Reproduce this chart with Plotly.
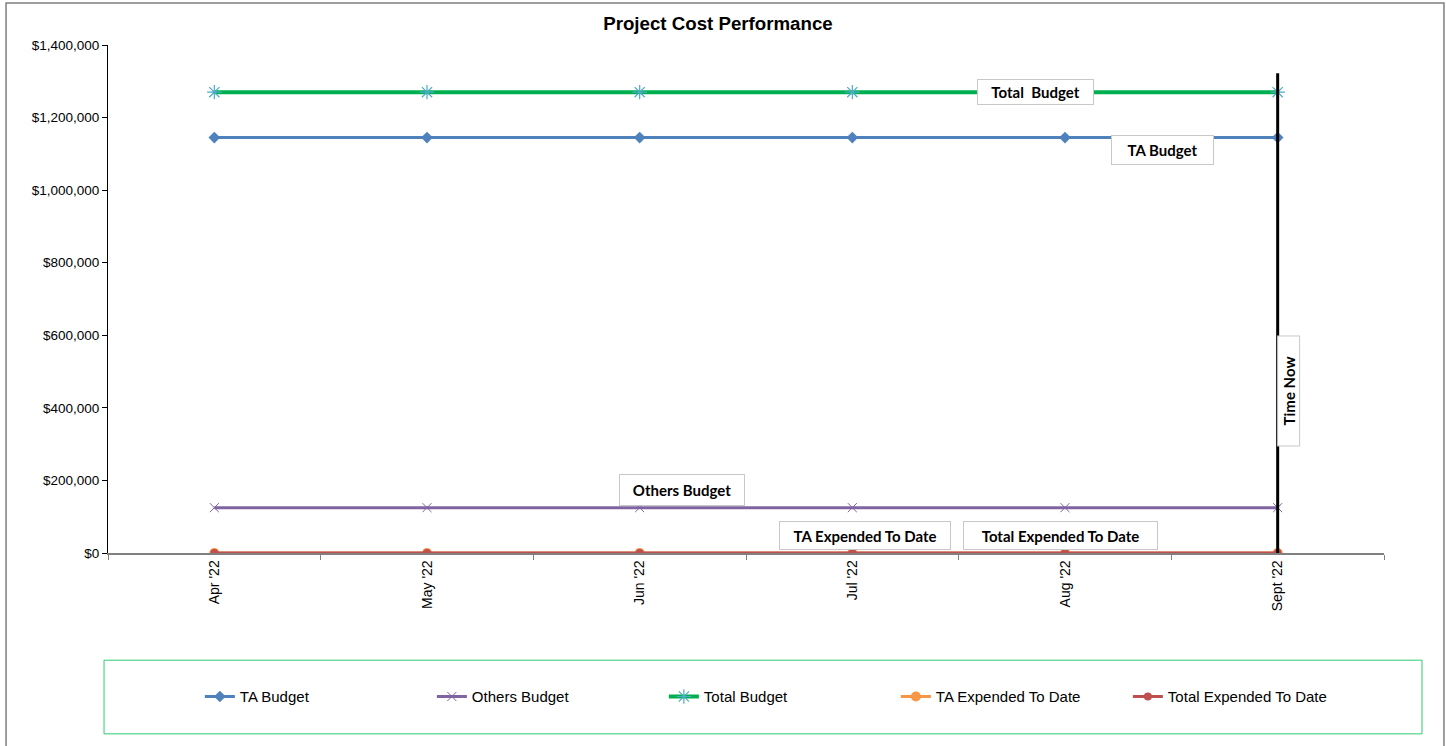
import plotly.graph_objects as go

# data
months = ["Apr '22", "May '22", "Jun '22", "Jul '22", "Aug '22", "Sept '22"]
ta_budget = [1145000, 1145000, 1145000, 1145000, 1145000, 1145000]
others_budget = [125000, 125000, 125000, 125000, 125000, 125000]
total_budget = [1270000, 1270000, 1270000, 1270000, 1270000, 1270000]
ta_expended = [0, 0, 0, 0, 0, 0]
total_expended = [0, 0, 0, 0, 0, 0]
time_now_idx = 5
time_now_top = 1322000

fig = go.Figure()

fig.add_trace(go.Scatter(
    x=months, y=ta_budget, name="TA Budget", mode="lines+markers",
    line=dict(color="#4F81BD", width=3),
    marker=dict(symbol="diamond", size=9, color="#4F81BD")
))
fig.add_trace(go.Scatter(
    x=months, y=others_budget, name="Others Budget", mode="lines+markers",
    line=dict(color="#8064A2", width=3),
    marker=dict(symbol="x-thin", size=9, color="#8064A2", line=dict(color="#8064A2", width=1))
))
fig.add_trace(go.Scatter(
    x=months, y=total_budget, name="Total Budget", mode="lines+markers",
    line=dict(color="#00B050", width=4),
    marker=dict(symbol="asterisk-open", size=12, color="#4BACC6", line=dict(color="#4BACC6", width=1.2))
))
fig.add_trace(go.Scatter(
    x=months, y=ta_expended, name="TA Expended To Date", mode="lines+markers",
    line=dict(color="#F79646", width=3),
    marker=dict(symbol="circle", size=10, color="#F79646")
))
fig.add_trace(go.Scatter(
    x=months, y=total_expended, name="Total Expended To Date", mode="lines+markers",
    line=dict(color="#C0504D", width=3),
    marker=dict(symbol="circle", size=8, color="#C0504D")
))

# time now line
fig.add_shape(type="line", xref="x", yref="y", x0=time_now_idx, x1=time_now_idx,
              y0=0, y1=time_now_top, line=dict(color="black", width=3))

# outer chart border
fig.add_shape(type="rect", xref="paper", yref="paper", x0=-0.0799, x1=1.047,
              y0=-0.4, y1=1.0827, line=dict(color="#7f7f7f", width=1.5), layer="below")
# legend box
fig.add_shape(type="rect", xref="paper", yref="paper", x0=-0.0031, x1=1.0298,
              y0=-0.356, y1=-0.211, line=dict(color="#2ECC71", width=1), layer="below")

# label, x, y, angle, box width, box height
labels = [
    ("Total  Budget", 3.86, 1270000, 0, 115, 24),
    ("TA Budget", 4.46, 1110000, 0, 101, 28),
    ("Others Budget", 2.20, 173000, 0, 124, 30),
    ("TA Expended To Date", 3.06, 47000, 0, 170, 27),
    ("Total Expended To Date", 3.98, 47000, 0, 193, 27),
    ("Time Now", 5.05, 446000, -90, 109, 21),
]
for txt, xv, yv, ang, w, h in labels:
    fig.add_annotation(
        x=xv, y=yv, xref="x", yref="y", text="<b>" + txt + "</b>", showarrow=False,
        textangle=ang, width=w, height=h, align="center", valign="middle",
        font=dict(family="Lato", size=15, color="black"),
        bgcolor="white", bordercolor="#c8c8c8", borderwidth=1, borderpad=0
    )

fig.update_layout(
    width=1446, height=746,
    paper_bgcolor="white", plot_bgcolor="white",
    margin=dict(l=108, r=62, t=45, b=193),
    font=dict(family="Liberation Sans", size=13, color="black"),
    title=dict(text="<b>Project Cost Performance</b>", x=0.4965, xref="container",
               xanchor="center", y=0.969, yanchor="middle", font=dict(size=18.7)),
    showlegend=True,
    legend=dict(orientation="h", x=0.072, y=-0.283, xanchor="left", yanchor="middle",
                font=dict(size=15), entrywidth=187, itemwidth=30, bgcolor="rgba(0,0,0,0)"),
    xaxis=dict(
        type="category", range=[-0.5, 5.5], tickangle=-90, tickson="boundaries",
        ticks="outside", ticklen=5, tickcolor="#808080", showline=True,
        linecolor="#808080", linewidth=1.5, showgrid=False, zeroline=False,
        tickfont=dict(size=14)
    ),
    yaxis=dict(
        range=[0, 1400000], dtick=200000, tickformat="$,.0f", ticks="outside",
        ticklen=5, tickcolor="black", showline=True, linecolor="black",
        linewidth=1, showgrid=False, zeroline=False, tickfont=dict(size=13.5)
    ),
)

fig.write_html("out.html", config=dict(displayModeBar=False),
               post_script="document.body.style.margin='0';")
